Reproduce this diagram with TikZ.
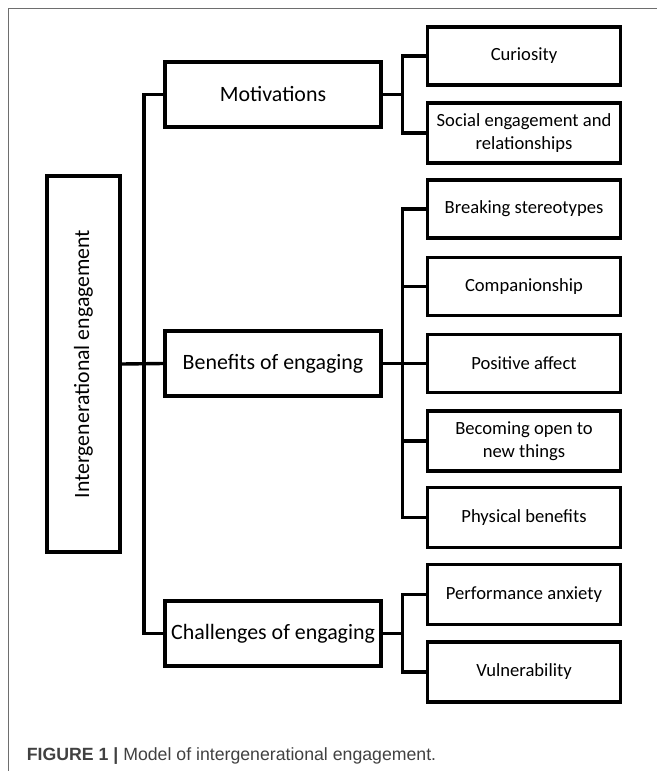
\documentclass[tikz,border=0pt]{standalone}
\usepackage{fontspec}
\setmainfont{Carlito}
\newfontfamily\capfont{Liberation Sans}
\definecolor{capgray}{RGB}{65,65,65}
\definecolor{framegray}{RGB}{110,110,110}
\begin{document}
\begin{tikzpicture}[x=1pt,y=-1pt,
  box/.style={draw,line width=3.4pt,inner sep=0pt,align=center,font=\fontsize{18.6}{22.5}\selectfont},
  rootbox/.style={box,minimum width=73pt,minimum height=376pt},
  midbox/.style={box,minimum width=216pt,minimum height=65pt,font=\fontsize{21.9}{26}\selectfont},
  leafbox/.style={box,minimum width=193pt,minimum height=58pt},
  conn/.style={line width=3.4pt,line join=miter}]
\useasboundingbox (0,0) rectangle (657,771);
\draw[framegray,line width=0.9pt] (8.3,771) -- (8.3,8) -- (657,8);

\node[rootbox] (root) at (83.5,364) {};
\node[rotate=90,font=\fontsize{21.8}{26}\selectfont] (roottext) at (83.5,364) {Intergenerational engagement};

\node[midbox] (mot) at (273,94.5) {Motivations};
\node[midbox] (ben) at (273,363.5) {Benefits of engaging};
\node[midbox] (chal) at (273,633.5) {Challenges of engaging};

\node[leafbox] (cur) at (524,56) {Curiosity};
\node[leafbox,minimum height=60pt] (soc) at (524,133) {Social engagement and\\relationships};

\node[leafbox] (brk) at (524,209) {Breaking stereotypes};
\node[leafbox] (comp) at (524,286.5) {Companionship};
\node[leafbox] (pos) at (524,363.5) {Positive affect};
\node[leafbox,minimum height=60pt] (open) at (524,441) {Becoming open to\\new things};
\node[leafbox,minimum height=60pt] (phys) at (524,517.5) {Physical benefits};

\node[leafbox,minimum height=60pt] (perf) at (524,594.5) {Performance anxiety};
\node[leafbox,minimum height=60pt] (vul) at (524,672) {Vulnerability};

\coordinate (tr) at (144,0);
\coordinate (mj) at (402.5,0);

\draw[conn] (root.east) -- (ben.west);
\draw[conn] (mot.west) -- (mot.west -| tr) -- (chal.west -| tr) -- (chal.west);

\draw[conn] (mot.east) -- (mot.east -| mj);
\draw[conn] (cur.west) -- (cur.west -| mj) -- (soc.west -| mj) -- (soc.west);

\draw[conn] (ben.east) -- (pos.west);
\draw[conn] (brk.west) -- (brk.west -| mj) -- (phys.west -| mj) -- (phys.west);
\draw[conn] (comp.west) -- (comp.west -| mj);
\draw[conn] (open.west) -- (open.west -| mj);

\draw[conn] (chal.east) -- (chal.east -| mj);
\draw[conn] (perf.west) -- (perf.west -| mj) -- (vul.west -| mj) -- (vul.west);

\node[anchor=base west,inner sep=0pt,font=\capfont\fontsize{17.7}{21}\selectfont,text=capgray] (cap) at (26.7,760.7)
  {\textbf{FIGURE 1} \textbf{|} Model of intergenerational engagement.};
\end{tikzpicture}
\end{document}
